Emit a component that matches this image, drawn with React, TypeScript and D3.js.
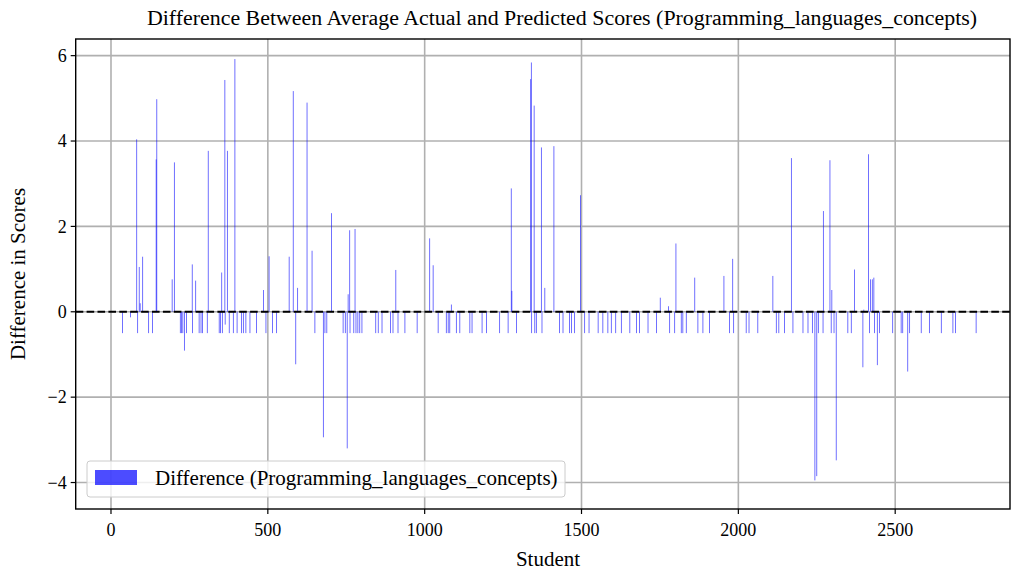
import React from "react";
import * as d3 from "d3";

const students: number[] = [
  37, 62, 82, 85, 90, 93, 101, 120, 132, 144, 146, 195, 202, 221, 225, 229, 234, 241, 259, 260,
  270, 281, 287, 292, 307, 310, 345, 349, 353, 355, 363, 364, 371, 377, 390, 395, 402, 416, 422, 430,
  443, 464, 486, 494, 504, 515, 528, 568, 581, 589, 595, 625, 641, 650, 677, 682, 688, 703, 740, 747,
  753, 756, 761, 762, 774, 778, 781, 787, 793, 800, 844, 852, 864, 891, 899, 908, 915, 937, 976, 1016,
  1027, 1043, 1069, 1075, 1080, 1085, 1101, 1112, 1144, 1151, 1183, 1197, 1239, 1266, 1276, 1278, 1293, 1338, 1340, 1341,
  1349, 1351, 1356, 1372, 1374, 1383, 1412, 1430, 1441, 1462, 1468, 1478, 1497, 1510, 1524, 1553, 1568, 1584, 1595, 1609,
  1627, 1654, 1675, 1685, 1712, 1739, 1751, 1777, 1781, 1797, 1801, 1818, 1823, 1834, 1861, 1871, 1887, 1908, 1954, 1972,
  1982, 1985, 2025, 2034, 2062, 2110, 2121, 2129, 2147, 2169, 2174, 2206, 2222, 2236, 2244, 2250, 2255, 2270, 2271, 2292,
  2296, 2298, 2305, 2312, 2349, 2360, 2370, 2397, 2400, 2415, 2418, 2421, 2427, 2432, 2434, 2443, 2450, 2492, 2519, 2524,
  2540, 2546, 2583, 2609, 2647, 2684, 2692, 2758,
];

const differences: number[] = [
  -0.5, -0.13, 4.04, -0.5, 1.05, 0.2, 1.29, -0.5, -0.5, 3.57, 4.98, 0.76, 3.5, -0.5, -0.5, -0.5, -0.91, -0.5, 1.11, -0.5,
  0.73, -0.5, -0.5, -0.5, -0.5, 3.77, -0.5, -0.5, 0.92, -0.5, 5.43, -0.3, 3.77, -0.5, -0.5, 5.92, -0.5, -0.5, -0.5, -0.5,
  -0.5, -0.5, 0.51, -0.5, 1.3, -0.5, -0.5, 1.29, 5.17, -1.23, 0.56, 4.9, 1.43, -0.5, -2.94, -0.5, -0.5, 2.31, -0.5, -0.5,
  -3.2, 0.41, 1.91, -0.5, -0.5, 1.94, -0.5, -0.5, -0.5, -0.5, -0.5, -0.5, -0.5, -0.5, -0.5, 0.98, -0.5, -0.5, -0.5, 1.72,
  1.09, -0.5, -0.5, -0.5, -0.5, 0.17, -0.5, -0.5, -0.5, -0.5, -0.5, -0.5, -0.5, -0.5, 2.89, 0.49, -0.5, 5.45, 5.84, -0.5,
  4.83, -0.5, -0.5, 3.85, -0.5, 0.56, 3.88, -0.5, -0.5, -0.5, -0.5, -0.5, 2.73, -0.5, -0.5, -0.5, -0.5, -0.5, -0.5, -0.5,
  -0.5, -0.5, -0.5, -0.5, -0.5, -0.5, 0.33, 0.13, -0.5, -0.5, 1.6, -0.5, -0.5, -0.5, 0.8, -0.5, -0.5, -0.5, 0.84, -0.5,
  1.24, -0.5, -0.5, -0.5, -0.5, 0.84, -0.5, -0.5, -0.5, 3.6, -0.5, -0.5, -0.5, -0.5, -3.95, -3.85, -0.5, -0.5, 2.36, 3.55,
  -0.5, 0.51, -0.5, -3.48, -0.5, -0.5, 0.99, -1.3, 0.05, 3.69, -0.5, 0.76, 0.76, 0.8, -0.5, -1.25, -0.5, -0.5, -0.5, -0.5,
  -1.4, -0.5, -0.5, -0.5, -0.5, -0.5, -0.5, -0.5,
];

const xTicks: number[] = [0, 500, 1000, 1500, 2000, 2500];
const yTicks: number[] = [-4, -2, 0, 2, 4, 6];

const TITLE = "Difference Between Average Actual and Predicted Scores (Programming_languages_concepts)";
const X_LABEL = "Student";
const Y_LABEL = "Difference in Scores";
const LEGEND_LABEL = "Difference (Programming_languages_concepts)";

const W = 1012;
const H = 574;
const M = { left: 75.7, right: 1010, top: 39, bottom: 509 };
const FONT = "'Liberation Serif', 'Times New Roman', Times, serif";
const BAR_COLOR = "rgba(0,0,255,0.7)";

export default function App() {
  const x = d3.scaleLinear().domain([-112.5, 2866]).range([M.left, M.right]);
  const y = d3.scaleLinear().domain([-4.62, 6.39]).range([M.bottom, M.top]);
  const barW = Math.max(x(0.8) - x(0), 0.8);
  const fmt = (v: number) => (v < 0 ? "\u2212" + Math.abs(v) : String(v));

  return (
    <svg
      width={W}
      height={H}
      style={{ position: "absolute", left: 0, top: 0, background: "#fff" }}
      fontFamily={FONT}
    >
      <defs>
        <clipPath id="plot">
          <rect x={M.left} y={M.top} width={M.right - M.left} height={M.bottom - M.top} />
        </clipPath>
      </defs>
      {/* grid */}
      <g stroke="#b0b0b0" strokeWidth={1.6}>
        {xTicks.map((t) => (
          <line key={"gx" + t} x1={x(t)} x2={x(t)} y1={M.top} y2={M.bottom} />
        ))}
        {yTicks.map((t) => (
          <line key={"gy" + t} x1={M.left} x2={M.right} y1={y(t)} y2={y(t)} />
        ))}
      </g>
      {/* bars */}
      <g clipPath="url(#plot)">
        {students.map((s, i) => {
          const v = differences[i];
          const y0 = y(Math.max(0, v));
          const y1 = y(Math.min(0, v));
          return (
            <rect
              key={"b" + i}
              x={x(s) - barW / 2}
              y={y0}
              width={barW}
              height={Math.max(y1 - y0, 0.5)}
              fill={BAR_COLOR}
            />
          );
        })}
      </g>
      {/* zero line */}
      <line
        x1={M.left}
        x2={M.right}
        y1={y(0)}
        y2={y(0)}
        stroke="#000"
        strokeWidth={2}
        strokeDasharray="7.6,3.3"
      />
      {/* spines */}
      <rect
        x={M.left}
        y={M.top}
        width={M.right - M.left}
        height={M.bottom - M.top}
        fill="none"
        stroke="#000"
        strokeWidth={1.4}
      />
      {/* x ticks */}
      {xTicks.map((t) => (
        <g key={"xt" + t}>
          <line x1={x(t)} x2={x(t)} y1={M.bottom} y2={M.bottom + 5} stroke="#000" strokeWidth={1.2} />
          <text x={x(t)} y={M.bottom + 27} textAnchor="middle" fontSize={18}>
            {fmt(t)}
          </text>
        </g>
      ))}
      {/* y ticks */}
      {yTicks.map((t) => (
        <g key={"yt" + t}>
          <line x1={M.left - 5} x2={M.left} y1={y(t)} y2={y(t)} stroke="#000" strokeWidth={1.2} />
          <text x={M.left - 9} y={y(t)} dy="0.35em" textAnchor="end" fontSize={18}>
            {fmt(t)}
          </text>
        </g>
      ))}
      {/* labels */}
      <text x={548} y={566} textAnchor="middle" fontSize={21}>
        {X_LABEL}
      </text>
      <text
        transform={`translate(25,${(M.top + M.bottom) / 2}) rotate(-90)`}
        textAnchor="middle"
        fontSize={21}
      >
        {Y_LABEL}
      </text>
      <text x={562} y={25} textAnchor="middle" fontSize={21.9}>
        {TITLE}
      </text>
      {/* legend */}
      <g>
        <rect x={87} y={461} width={478} height={36} rx={3} fill="rgba(255,255,255,0.8)" stroke="#cccccc" strokeWidth={1} />
        <rect x={95} y={470} width={42} height={15} fill={BAR_COLOR} />
        <text x={155} y={485} fontSize={21}>
          {LEGEND_LABEL}
        </text>
      </g>
    </svg>
  );
}
